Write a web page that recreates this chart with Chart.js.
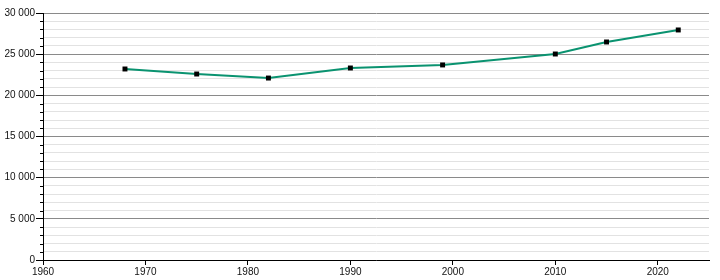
<!DOCTYPE html>
<html>
<head>
<meta charset="utf-8">
<script src="https://cdn.jsdelivr.net/npm/chart.js@4.4.1/dist/chart.umd.min.js"></script>
<style>
    html, body { margin: 0; padding: 0; background: #fff; }
    #wrap { width: 720px; height: 280px; }
</style>
</head>
<body>
<div id="wrap"><canvas id="popChart" width="720" height="280"></canvas></div>
<script>
// census years and population
const years = [1968, 1975, 1982, 1990, 1999, 2010, 2015, 2022];
const population = [23200, 22590, 22100, 23320, 23690, 25020, 26480, 27940];

// axis ticks
const xTicks = [1960, 1970, 1980, 1990, 2000, 2010, 2020];
const yMajorStep = 5000;
const yMinorStep = 1000;

function formatThousands(v) {
    return String(v).replace(/\B(?=(\d{3})+(?!\d))/g, " ");
}

// short minor tick marks on the y axis
const minorTicks = {
    id: "minorTicks",
    afterDraw(chart) {
        const y = chart.scales.y;
        const ctx = chart.ctx;
        ctx.save();
        ctx.strokeStyle = "#000";
        ctx.lineWidth = 1;
        for (let v = 0; v <= 30000; v += yMinorStep) {
            if (v % yMajorStep === 0) continue;
            const py = Math.round(y.getPixelForValue(v)) + 0.5;
            ctx.beginPath();
            ctx.moveTo(y.right - 3, py);
            ctx.lineTo(y.right, py);
            ctx.stroke();
        }
        ctx.restore();
    }
};

new Chart(document.getElementById("popChart"), {
    type: "line",
    data: {
        datasets: [{
            data: years.map((yr, i) => ({ x: yr, y: population[i] })),
            borderColor: "#0a9370",
            borderWidth: 2,
            pointStyle: "rect",
            pointRadius: 3.5,
            pointBackgroundColor: "#000",
            pointBorderColor: "#000",
            pointBorderWidth: 0,
            tension: 0
        }]
    },
    options: {
        responsive: false,
        animation: false,
        layout: { padding: { top: 13, right: 11, left: 0, bottom: 0 } },
        plugins: { legend: { display: false }, tooltip: { enabled: false } },
        scales: {
            x: {
                type: "linear",
                min: 1960,
                max: 2025,
                afterBuildTicks: scale => { scale.ticks = xTicks.map(v => ({ value: v })); },
                afterFit: scale => { scale.height = 20; },
                grid: { drawOnChartArea: false, drawTicks: true, tickLength: 5, tickColor: "#000" },
                border: { color: "#000", width: 1 },
                ticks: {
                    color: "#111",
                    font: { family: "Liberation Sans, Arial, sans-serif", size: 10 },
                    padding: 1,
                    maxRotation: 0,
                    autoSkip: false,
                    callback: v => String(v)
                }
            },
            y: {
                min: 0,
                max: 30000,
                afterFit: scale => { scale.width = 43; },
                grid: {
                    color: c => (c.tick && c.tick.value % yMajorStep === 0) ? "#8a8a8a" : "#e2e2e2",
                    tickColor: c => (c.tick && c.tick.value % yMajorStep === 0) ? "#000" : "rgba(0,0,0,0)",
                    tickLength: 7,
                    lineWidth: 1
                },
                border: { color: "#000", width: 1 },
                ticks: {
                    stepSize: yMinorStep,
                    autoSkip: false,
                    color: "#111",
                    padding: 1,
                    font: { family: "Liberation Sans, Arial, sans-serif", size: 10 },
                    callback: v => v % yMajorStep === 0 ? formatThousands(v) : ""
                }
            }
        }
    },
    plugins: [minorTicks]
});
</script>
</body>
</html>
